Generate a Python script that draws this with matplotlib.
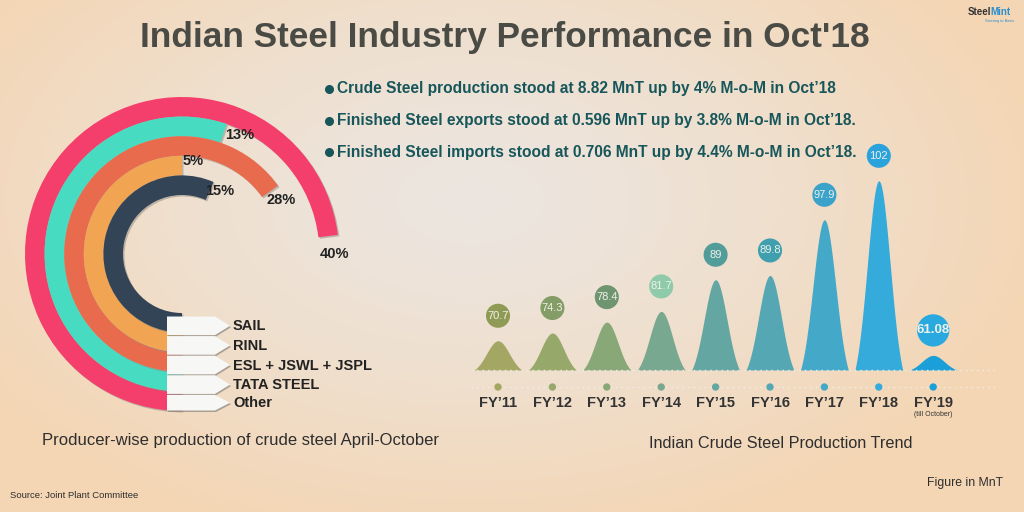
import numpy as np
import matplotlib
matplotlib.use("Agg")
import matplotlib.pyplot as plt
from matplotlib.patches import Polygon
from matplotlib.transforms import ScaledTranslation, blended_transform_factory

plt.rcParams['font.family'] = ['Liberation Sans', 'DejaVu Sans']

# producer-wise share of crude steel, Apr-Oct (inner ring first)
producers = ["SAIL", "RINL", "ESL + JSWL + JSPL", "TATA STEEL", "Other"]
shares = [15, 5, 28, 13, 40]
ring_colors = ["#344457", "#f1a452", "#e86b4e", "#47dcc1", "#f43f6c"]

# crude steel production trend, MnT
years = ["FY’11", "FY’12", "FY’13", "FY’14", "FY’15", "FY’16", "FY’17", "FY’18", "FY’19"]
production = [70.7, 74.3, 78.4, 81.7, 89, 89.8, 97.9, 102, 61.08]
prod_labels = ["70.7", "74.3", "78.4", "81.7", "89", "89.8", "97.9", "102", "61.08"]
bell_colors = ["#a4a764", "#97a86b", "#88a878", "#79a891", "#64a6a2",
               "#55a7b3", "#44a9c9", "#35abdb", "#1a9fd8"]
bubble_colors = ["#8f9a54", "#849c66", "#6f9470", "#8fcaaa", "#529c99",
                 "#3f9fae", "#3ba2c9", "#2aa3dc", "#2aa9e1"]

bullets = [
    "Crude Steel production stood at 8.82 MnT up by 4% M-o-M in Oct’18",
    "Finished Steel exports stood at 0.596 MnT up by 3.8% M-o-M in Oct’18.",
    "Finished Steel imports stood at 0.706 MnT up by 4.4% M-o-M in Oct’18.",
]

W, H = 1024, 512
fig = plt.figure(figsize=(W / 100, H / 100), dpi=100)

# background gradient
bg = fig.add_axes([0, 0, 1, 1], zorder=0)
yy, xx = np.mgrid[0:H, 0:W]
d = np.sqrt(((xx - 470) / 580.0) ** 2 + ((yy - 200) / 350.0) ** 2)
t = np.clip(d, 0, 1) ** 1.3
light = np.array([236, 230, 224]) / 255
peach = np.array([244, 214, 180]) / 255
img = light * (1 - t[..., None]) + peach * t[..., None]
bg.imshow(img, extent=(0, W, H, 0), aspect='auto')
bg.set_xlim(0, W)
bg.set_ylim(H, 0)
bg.axis('off')

# title + bullets
bg.text(505, 47, "Indian Steel Industry Performance in Oct'18", ha='center', va='baseline',
        fontsize=25.4, fontweight='bold', color='#4b4b46')
for i, line in enumerate(bullets):
    y = 89 + i * 31.5
    bg.plot(329, y, marker='o', ms=5.5, color='#17565a')
    bg.text(337, y, line, ha='left', va='center', fontsize=11.2, fontweight='bold', color='#17565a')

# logo
bg.text(991, 12, "Steel", ha='right', va='center', fontsize=7, fontweight='bold', color='#333333')
bg.text(990, 12, "Mint", ha='left', va='center', fontsize=7, fontweight='bold', color='#2a8fd0')
bg.text(1000, 21, "Steering to Basis", ha='center', va='center', fontsize=2.8, color='#2a8fd0')

# captions
bg.text(241, 440, "Producer-wise production of crude steel April-October", ha='center', va='center',
        fontsize=12, color='#2e2e2e')
bg.text(781, 443, "Indian Crude Steel Production Trend", ha='center', va='center',
        fontsize=11.7, color='#2e2e2e')
bg.text(1003, 483, "Figure in MnT", ha='right', va='center', fontsize=8.8, color='#2e2e2e')
bg.text(10, 495, "Source: Joint Plant Committee", ha='left', va='center', fontsize=6.8,
        color='#2e2e2e')

# ---- radial bars ----
cx, cy, R = 182, 254, 160
pax = fig.add_axes([(cx - R) / W, 1 - (cy + R) / H, 2 * R / W, 2 * R / H], projection='polar', zorder=1)
pax.set_theta_zero_location('S')
pax.set_theta_direction(-1)
pax.set_ylim(0, R)
pax.set_axis_off()

hole, thick = 59, 19.6
sweep = np.deg2rad(180 + (np.array(shares) - 5) * 83 / 35.0)
shadow = ScaledTranslation(1.5 / 100, -1.5 / 100, fig.dpi_scale_trans)
for i in reversed(range(len(shares))):
    r0 = hole + i * thick
    pax.bar(0, thick, width=sweep[i], bottom=r0, align='edge', color='#8d877f', alpha=0.5,
            linewidth=0, transform=pax.transData + shadow)
    pax.bar(0, thick, width=sweep[i], bottom=r0, align='edge', color=ring_colors[i], linewidth=0)
    pax.text(sweep[i] + np.deg2rad(7), r0 + thick / 2 + 5, f"{shares[i]}%", ha='center', va='center',
             fontsize=10.5, fontweight='bold', color='#222222')

# label tags over the ring starts
ov = fig.add_axes([0, 0, 1, 1], zorder=3)
ov.set_xlim(0, W)
ov.set_ylim(H, 0)
ov.axis('off')
for i, name in enumerate(producers):
    r0 = hole + i * thick
    top, bot = cy + r0 + 3.5, cy + r0 + thick + 2.5
    if i == len(producers) - 1:
        bot = cy + hole + len(producers) * thick - 0.5
    mid = (top + bot) / 2
    pts = np.array([(cx - 15, top), (cx + 33, top), (cx + 48, mid), (cx + 33, bot), (cx - 15, bot)])
    ov.add_patch(Polygon(pts + [1, 1.5], closed=True, fc='#8d877f', ec='none', alpha=0.7))
    ov.add_patch(Polygon(pts, closed=True, fc='#f7f7f5', ec='none'))
    ov.text(cx + 51, mid + 0.5, name, ha='left', va='center', fontsize=10.5, fontweight='bold',
            color='#222222')

# ---- bell chart ----
bx = fig.add_axes([470 / W, 1 - 370 / H, 530 / W, 220 / H], zorder=1)
k = 18.5
fwd = lambda v: np.exp(np.asarray(v, dtype=float) / k)
inv = lambda y: k * np.log(np.maximum(np.asarray(y, dtype=float), 1e-12))
bx.set_yscale('function', functions=(fwd, inv))
base = 40
x = np.arange(len(years))

sig, half = 0.21, 0.44
xs = np.linspace(-half, half, 201)
tail = np.exp(-half ** 2 / (2 * sig ** 2))
g = (np.exp(-xs ** 2 / (2 * sig ** 2)) - tail) / (1 - tail)
for i, v in enumerate(production):
    yb = inv(fwd(base) + (fwd(v) - fwd(base)) * g)
    bx.fill_between(i + xs, base, yb, color=bell_colors[i], lw=0)

lift = bx.transData + ScaledTranslation(0, 0.25, fig.dpi_scale_trans)
sizes = [300] * (len(years) - 1) + [540]
bx.scatter(x, production, s=sizes, c=bubble_colors, transform=lift, clip_on=False, zorder=3, lw=0)
for i, v in enumerate(production):
    last = i == len(years) - 1
    bx.text(i, v, prod_labels[i], transform=lift, ha='center', va='center', zorder=4,
            fontsize=9.5 if last else 8, fontweight='bold' if last else 'normal', color='#eef2e8')

bx.set_xlim(-0.515, 9.228)
bx.set_ylim(base, 104.7)
bx.set_xticks(x, years)
bx.tick_params(axis='x', length=0, pad=19, labelsize=10.5, labelcolor='#333333')
for lbl in bx.get_xticklabels():
    lbl.set_fontweight('bold')
bx.set_yticks([])
bx.yaxis.set_minor_locator(matplotlib.ticker.NullLocator())
for s in bx.spines.values():
    s.set_visible(False)
bx.patch.set_alpha(0)

dot_tr = blended_transform_factory(bx.transData, bx.transAxes)
bx.plot([-0.5, 9.2], [-17 / 220] * 2, transform=dot_tr, ls=(0, (1, 3)), color='#f2efea', lw=1,
        clip_on=False)
bx.plot([-0.5, 9.2], [0, 0], transform=dot_tr, ls=(0, (1, 3)), color='#f2efea', lw=1, clip_on=False)
bx.scatter(x, [-17 / 220] * len(years), s=28, c=bell_colors, transform=dot_tr, clip_on=False, lw=0,
           zorder=3)
bx.text(8, -45 / 220, "(till October)", transform=dot_tr, ha='center', va='center', fontsize=5,
        color='#333333')

fig.savefig("out.png", dpi=100)
